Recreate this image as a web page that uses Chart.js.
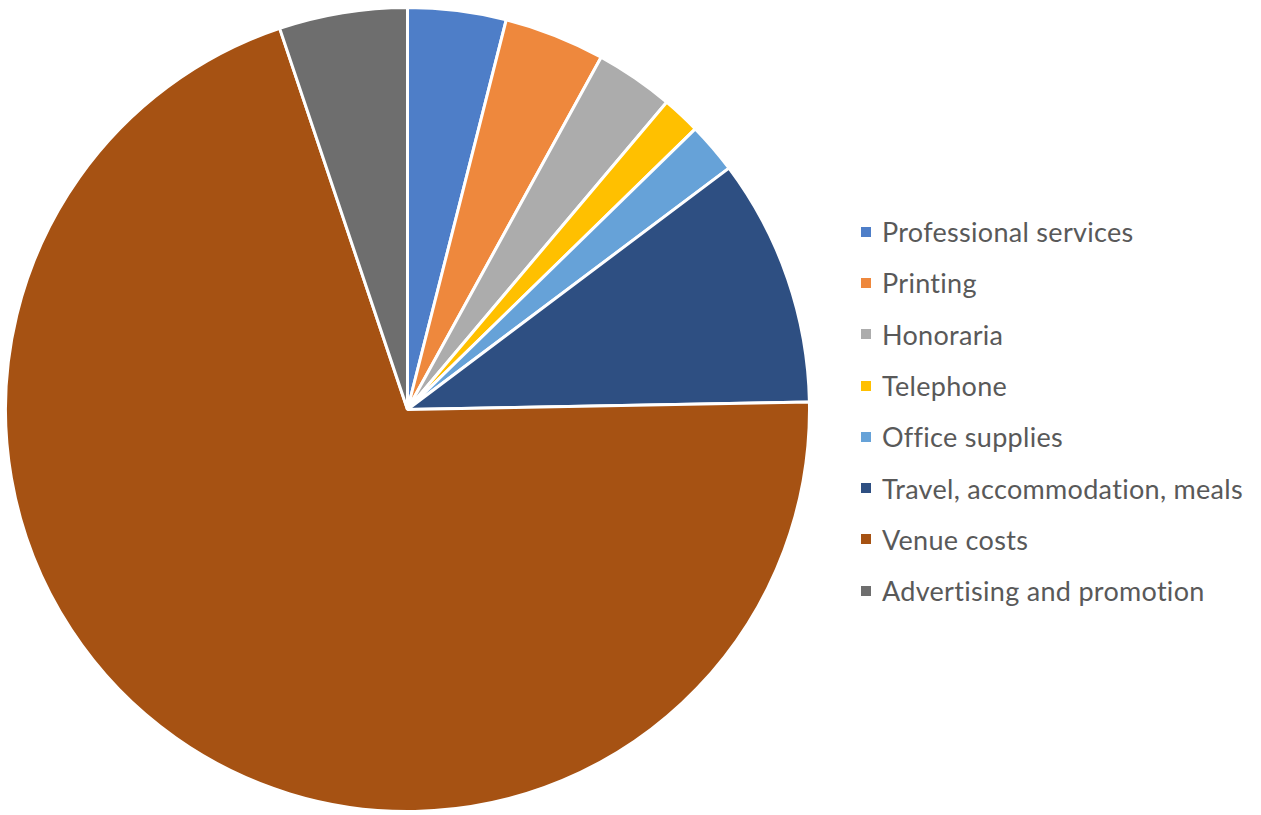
<!DOCTYPE html>
<html>
<head>
<meta charset="utf-8">
<script src="https://cdn.jsdelivr.net/npm/chart.js@4.4.1/dist/chart.umd.min.js"></script>
<style>
  html, body { margin: 0; padding: 0; background: #fff; }
  body { width: 1261px; height: 815px; position: relative; overflow: hidden; font-family: Lato, "Open Sans", sans-serif; }
  #pieWrap { position: absolute; left: 4px; top: 6px; width: 807px; height: 807px; }
  #legend { position: absolute; left: 861px; top: 206px; }
  .legend-row { height: 51.3px; display: flex; align-items: center; color: #595959; font-size: 27px; letter-spacing: 0.3px; white-space: nowrap; }
  .legend-swatch { width: 10px; height: 10px; margin-right: 11px; flex: none; }
</style>
</head>
<body>
<div id="pieWrap"><canvas id="pieChart"></canvas></div>
<div id="legend"></div>
<script>
// categorias e valores (aprox. % do total)
const categories = [
  'Professional services',
  'Printing',
  'Honoraria',
  'Telephone',
  'Office supplies',
  'Travel, accommodation, meals',
  'Venue costs',
  'Advertising and promotion'
];
const values = [3.95, 4.05, 3.15, 1.55, 2.05, 9.95, 70.15, 5.15];
const colors = ['#4e7ec8', '#ee883d', '#acacac', '#ffc000', '#66a2d8', '#2e4f82', '#a65213', '#6e6e6e'];

const pieChart = new Chart(document.getElementById('pieChart'), {
  type: 'pie',
  data: {
    labels: categories,
    datasets: [{
      data: values,
      backgroundColor: colors,
      borderColor: '#ffffff',
      borderWidth: 3
    }]
  },
  options: {
    responsive: true,
    maintainAspectRatio: false,
    animation: false,
    layout: { padding: 0 },
    plugins: {
      legend: { display: false },
      tooltip: { enabled: false }
    }
  }
});

// legenda em HTML, montada a partir dos mesmos arrays
document.getElementById('legend').innerHTML = categories.map((name, i) => `
  <div class="legend-row">
    <span class="legend-swatch" style="background:${colors[i]}"></span>
    <span class="legend-name">${name}</span>
  </div>`).join('');
</script>
</body>
</html>
